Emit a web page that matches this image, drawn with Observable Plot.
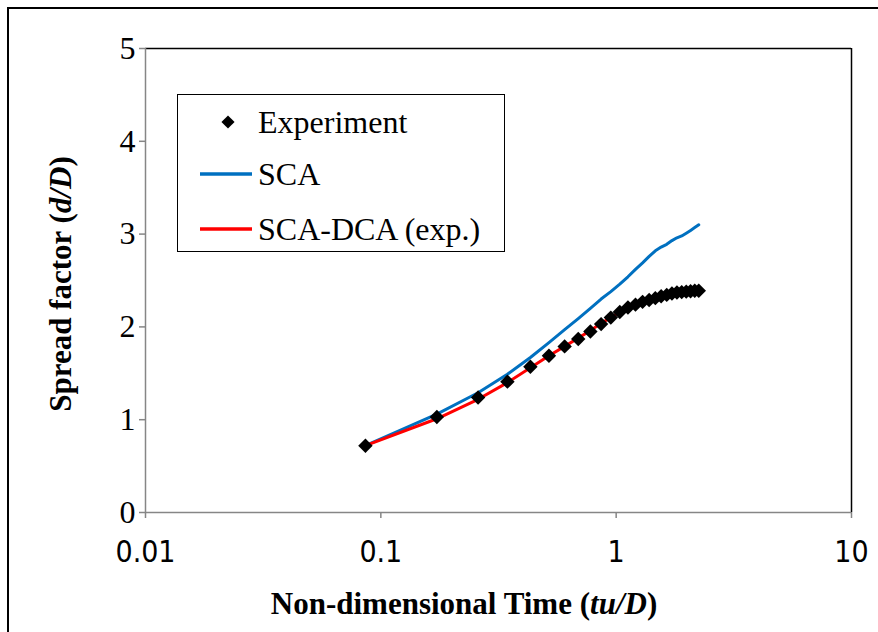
<!DOCTYPE html>
<html>
<head>
<meta charset="utf-8">
<script src="https://cdn.jsdelivr.net/npm/d3@7"></script>
<script src="https://cdn.jsdelivr.net/npm/@observablehq/plot@0.6"></script>
<style>
  html, body { margin: 0; padding: 0; background: #fff; overflow: hidden; }
  #wrap { position: relative; width: 878px; height: 632px; overflow: hidden; background: #fff; }
  #outer { position: absolute; left: 7px; top: 7px; width: 900px; height: 700px; border: 2px solid #000; box-sizing: border-box; }
  #chart { position: absolute; left: 0; top: 0; }
  .serif { font-family: "Liberation Serif", "Times New Roman", serif; color: #000; }
  #xtitle { position: absolute; left: 464px; top: 603px; transform: translate(-50%, -50%); font-weight: bold; font-size: 31px; white-space: nowrap; line-height: 1; }
  #ytitle { position: absolute; left: 60px; top: 284px; transform: translate(-50%, -50%) rotate(-90deg); font-weight: bold; font-size: 31px; white-space: nowrap; line-height: 1; }
  #legend { position: absolute; left: 177px; top: 94px; width: 328px; height: 158px; border: 1.5px solid #000; box-sizing: border-box; background: #fff; }
  .item { position: absolute; left: 0; height: 40px; display: flex; align-items: center; font-size: 32px; white-space: nowrap; }
  .item span { position: absolute; left: 80px; line-height: 1; }
</style>
</head>
<body>
<div id="wrap">
  <div id="outer"></div>
  <div id="chart"></div>
  <div id="legend" class="serif"></div>
  <div id="xtitle" class="serif">Non-dimensional Time (<i>tu/D</i>)</div>
  <div id="ytitle" class="serif">Spread factor (<i>d/D</i>)</div>
</div>
<script>
// Non-dimensional time tu/D
const time = [0.086, 0.173, 0.259, 0.345, 0.432, 0.518, 0.604, 0.690, 0.777, 0.863,
              0.949, 1.036, 1.122, 1.208, 1.295, 1.381, 1.467, 1.553, 1.640, 1.726,
              1.812, 1.899, 1.985, 2.071, 2.157, 2.244];
// Spread factor d/D
const experiment = [0.72, 1.03, 1.24, 1.41, 1.57, 1.69, 1.79, 1.87, 1.95, 2.03,
                    2.10, 2.16, 2.21, 2.24, 2.27, 2.29, 2.31, 2.33, 2.345, 2.36,
                    2.37, 2.375, 2.38, 2.385, 2.39, 2.39];
const sca = [0.72, 1.06, 1.29, 1.49, 1.67, 1.83, 1.97, 2.09, 2.20, 2.30,
             2.38, 2.46, 2.54, 2.62, 2.69, 2.76, 2.82, 2.86, 2.89, 2.93,
             2.96, 2.98, 3.01, 3.04, 3.07, 3.10];
const scaDca = [0.72, 1.01, 1.22, 1.40, 1.56, 1.69, 1.79, 1.88, 1.96, 2.04,
                2.10, 2.16, 2.21, 2.25, 2.28, 2.30, 2.32, 2.34, 2.35, 2.36,
                2.37, 2.38, 2.385, 2.39, 2.395, 2.40];
const xTicks = [0.01, 0.1, 1, 10];
const xTickLabels = ["0.01", "0.1", "1", "10"];
const yTicks = [0, 1, 2, 3, 4, 5];
const yTickLabels = ["0", "1", "2", "3", "4", "5"];
const seriesNames = ["Experiment", "SCA", "SCA-DCA (exp.)"];
const seriesColors = ["#000000", "#0070C0", "#FF0000"];

const expData = time.map((t, i) => ({t, v: experiment[i]}));
const scaData = time.map((t, i) => ({t, v: sca[i]}));
const dcaData = time.map((t, i) => ({t, v: scaDca[i]}));

const gray = "#868686";
const serif = "'Liberation Serif', 'Times New Roman', serif";
const chart = Plot.plot({
  width: 878,
  height: 632,
  marginLeft: 145,
  marginRight: 27,
  marginTop: 48,
  marginBottom: 120,
  style: {fontFamily: serif, fontSize: "32px", background: "transparent", color: "#000"},
  x: {type: "log", domain: [0.01, 10]},
  y: {domain: [0, 5]},
  marks: [
    Plot.ruleX([10], {stroke: "#000", strokeWidth: 1.5}),
    Plot.ruleY([5], {stroke: "#000", strokeWidth: 1.5}),
    Plot.ruleX([0.01], {stroke: gray, strokeWidth: 1.5}),
    Plot.ruleY([0], {stroke: gray, strokeWidth: 1.5}),
    Plot.axisX({ticks: xTicks, tickSize: 6, tickPadding: 22, stroke: gray, strokeWidth: 1.5,
      tickFormat: d => xTickLabels[xTicks.indexOf(d)], label: null,
      fontFamily: "'Liberation Sans Narrow', 'DejaVu Sans Condensed', 'Liberation Sans', sans-serif", fontSize: 30, fill: "#000"}),
    Plot.axisY({ticks: yTicks, tickSize: 6, tickPadding: 4, stroke: gray, strokeWidth: 1.5, label: null,
      tickFormat: d => yTickLabels[yTicks.indexOf(d)],
      fontFamily: serif, fontSize: 32, fill: "#000"}),
    Plot.line(scaData, {x: "t", y: "v", stroke: seriesColors[1], strokeWidth: 3}),
    Plot.line(dcaData, {x: "t", y: "v", stroke: seriesColors[2], strokeWidth: 3}),
    Plot.dot(expData, {x: "t", y: "v", symbol: "diamond2", r: 6.5, fill: seriesColors[0], stroke: "none"})
  ]
});
document.getElementById("chart").appendChild(chart);

// Legend
const legend = document.getElementById("legend");
const rowsTop = [7, 59, 114];
seriesNames.forEach((name, i) => {
  const row = document.createElement("div");
  row.className = "item";
  row.style.top = rowsTop[i] + "px";
  const ns = "http://www.w3.org/2000/svg";
  const svg = document.createElementNS(ns, "svg");
  svg.setAttribute("width", 80);
  svg.setAttribute("height", 40);
  svg.style.position = "absolute";
  svg.style.left = "0px";
  if (i === 0) {
    const p = document.createElementNS(ns, "path");
    p.setAttribute("d", d3.symbol(d3.symbolDiamond2, 110)());
    p.setAttribute("transform", "translate(50,20)");
    p.setAttribute("fill", seriesColors[0]);
    svg.appendChild(p);
  } else {
    const l = document.createElementNS(ns, "line");
    l.setAttribute("x1", 22); l.setAttribute("x2", 74);
    l.setAttribute("y1", 20); l.setAttribute("y2", 20);
    l.setAttribute("stroke", seriesColors[i]);
    l.setAttribute("stroke-width", 3.5);
    svg.appendChild(l);
  }
  row.appendChild(svg);
  const s = document.createElement("span");
  s.textContent = name;
  row.appendChild(s);
  legend.appendChild(row);
});
</script>
</body>
</html>
